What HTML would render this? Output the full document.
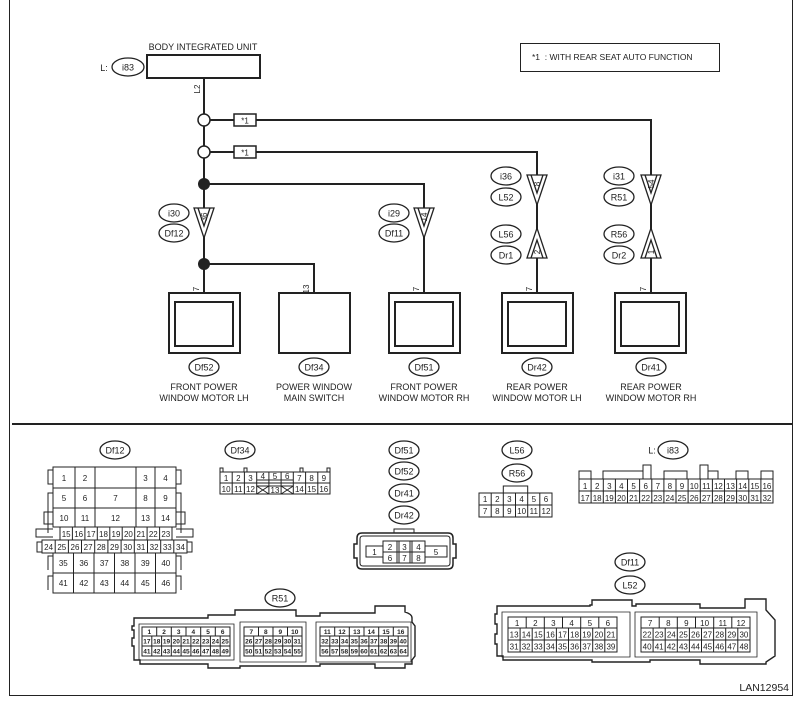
<!DOCTYPE html>
<html><head><meta charset="utf-8"><style>
html,body{margin:0;padding:0;background:#fff}
svg{display:block}
text{font-family:"Liberation Sans",Arial,sans-serif;fill:#222}
.s{fill:none;stroke:#222;stroke-width:2}
.t{fill:none;stroke:#222;stroke-width:1}
.n{font-size:8px;text-anchor:middle}
.l{font-size:9px;text-anchor:middle}
.e{fill:#fff;stroke:#222;stroke-width:1.3}
</style></head><body>
<svg width="803" height="704" viewBox="0 0 803 704" xmlns="http://www.w3.org/2000/svg">
<!-- frame -->
<path class="t" d="M9.5 0V695.5H792.5V0" stroke-width="1.3"/>
<line x1="12" y1="424" x2="792" y2="424" stroke="#222" stroke-width="2"/>

<!-- body unit -->
<text x="203" y="50" class="l">BODY INTEGRATED UNIT</text>
<rect x="147" y="55" width="113" height="23" class="s"/>
<text x="104" y="71" class="l">L:</text>
<ellipse cx="128" cy="67" rx="16" ry="9" class="e"/><text x="128" y="70.5" class="l">i83</text>
<text transform="translate(200,89) rotate(-90)" class="n">L2</text>

<!-- wires -->
<path class="s" d="M204 78V292"/>
<path class="s" d="M210 120H651V292"/>
<path class="s" d="M210 152H537V292"/>
<path class="s" d="M204 184H424V292"/>
<path class="s" d="M204 264H314V292"/>
<circle cx="204" cy="120" r="6" fill="#fff" stroke="#222" stroke-width="1.5"/>
<circle cx="204" cy="152" r="6" fill="#fff" stroke="#222" stroke-width="1.5"/>
<circle cx="204" cy="184" r="6" fill="#222"/>
<circle cx="204" cy="264" r="6" fill="#222"/>
<rect x="234" y="114" width="22" height="12" fill="#fff" stroke="#222" stroke-width="1.5"/><text x="245" y="123.5" class="n">*1</text>
<rect x="234" y="146" width="22" height="12" fill="#fff" stroke="#222" stroke-width="1.5"/><text x="245" y="155.5" class="n">*1</text>

<!-- legend -->
<rect x="520.5" y="43.5" width="199" height="28" class="t" stroke-width="1.5"/>
<text x="532" y="60" style="font-size:8.5px">*1 &#160;: WITH REAR SEAT AUTO FUNCTION</text>

<!-- triangles down -->
<g fill="#fff" stroke="#222" stroke-width="1.3">
<polygon points="194,208 214,208 204,238"/><polyline fill="none" points="198,208 204,226 210,208"/>
<polygon points="414,208 434,208 424,238"/><polyline fill="none" points="418,208 424,226 430,208"/>
<polygon points="527,175 547,175 537,205"/><polyline fill="none" points="531,175 537,193 543,175"/>
<polygon points="641,175 661,175 651,205"/><polyline fill="none" points="645,175 651,193 657,175"/>
<polygon points="527,258 547,258 537,228"/><polyline fill="none" points="531,258 537,240 543,258"/>
<polygon points="641,258 661,258 651,228"/><polyline fill="none" points="645,258 651,240 657,258"/>
</g>
<text transform="translate(207,217) rotate(-90)" class="n">36</text>
<text transform="translate(427,217) rotate(-90)" class="n">14</text>
<text transform="translate(540,184) rotate(-90)" class="n">8</text>
<text transform="translate(654,184) rotate(-90)" class="n">54</text>
<text transform="translate(540,252) rotate(-90)" class="n">2</text>
<text transform="translate(654,252) rotate(-90)" class="n">1</text>

<!-- labels ellipses -->
<g>
<ellipse cx="174" cy="213" rx="15" ry="9" class="e"/><text x="174" y="216.5" class="l">i30</text>
<ellipse cx="174" cy="233" rx="15" ry="9" class="e"/><text x="174" y="236.5" class="l">Df12</text>
<ellipse cx="394" cy="213" rx="15" ry="9" class="e"/><text x="394" y="216.5" class="l">i29</text>
<ellipse cx="394" cy="233" rx="15" ry="9" class="e"/><text x="394" y="236.5" class="l">Df11</text>
<ellipse cx="506" cy="176" rx="15" ry="9" class="e"/><text x="506" y="179.5" class="l">i36</text>
<ellipse cx="506" cy="197" rx="15" ry="9" class="e"/><text x="506" y="200.5" class="l">L52</text>
<ellipse cx="506" cy="234" rx="15" ry="9" class="e"/><text x="506" y="237.5" class="l">L56</text>
<ellipse cx="506" cy="255" rx="15" ry="9" class="e"/><text x="506" y="258.5" class="l">Dr1</text>
<ellipse cx="619" cy="176" rx="15" ry="9" class="e"/><text x="619" y="179.5" class="l">i31</text>
<ellipse cx="619" cy="197" rx="15" ry="9" class="e"/><text x="619" y="200.5" class="l">R51</text>
<ellipse cx="619" cy="234" rx="15" ry="9" class="e"/><text x="619" y="237.5" class="l">R56</text>
<ellipse cx="619" cy="255" rx="15" ry="9" class="e"/><text x="619" y="258.5" class="l">Dr2</text>
</g>

<!-- pin labels -->
<text transform="translate(199,289) rotate(-90)" class="n">7</text>
<text transform="translate(309,289) rotate(-90)" class="n">13</text>
<text transform="translate(419,289) rotate(-90)" class="n">7</text>
<text transform="translate(532,289) rotate(-90)" class="n">7</text>
<text transform="translate(646,289) rotate(-90)" class="n">7</text>

<!-- component boxes -->
<rect x="169" y="293" width="71" height="60" class="s"/><rect x="175" y="302" width="58" height="44" class="s"/>
<rect x="279" y="293" width="71" height="60" class="s"/>
<rect x="389" y="293" width="71" height="60" class="s"/><rect x="395" y="302" width="58" height="44" class="s"/>
<rect x="502" y="293" width="71" height="60" class="s"/><rect x="508" y="302" width="58" height="44" class="s"/>
<rect x="615" y="293" width="71" height="60" class="s"/><rect x="621" y="302" width="58" height="44" class="s"/>

<ellipse cx="204" cy="367" rx="15" ry="9" class="e"/><text x="204" y="370.5" class="l">Df52</text>
<ellipse cx="314" cy="367" rx="15" ry="9" class="e"/><text x="314" y="370.5" class="l">Df34</text>
<ellipse cx="424" cy="367" rx="15" ry="9" class="e"/><text x="424" y="370.5" class="l">Df51</text>
<ellipse cx="537" cy="367" rx="15" ry="9" class="e"/><text x="537" y="370.5" class="l">Dr42</text>
<ellipse cx="651" cy="367" rx="15" ry="9" class="e"/><text x="651" y="370.5" class="l">Dr41</text>
<g class="l">
<text x="204" y="390">FRONT POWER</text><text x="204" y="401">WINDOW MOTOR LH</text>
<text x="314" y="390">POWER WINDOW</text><text x="314" y="401">MAIN SWITCH</text>
<text x="424" y="390">FRONT POWER</text><text x="424" y="401">WINDOW MOTOR RH</text>
<text x="537" y="390">REAR POWER</text><text x="537" y="401">WINDOW MOTOR LH</text>
<text x="651" y="390">REAR POWER</text><text x="651" y="401">WINDOW MOTOR RH</text>
</g>

<!-- ===== Df12 ===== -->
<ellipse cx="115" cy="450" rx="15" ry="9" class="e"/><text x="115" y="453.5" class="l">Df12</text>
<g class="t">
<rect x="53" y="467" width="123" height="60"/>
<path d="M53 488H176M53 508H176M75 467V527M95 467V527M136 467V527M155 467V527"/>
<rect x="60" y="527" width="112" height="13"/>
<path d="M72.4 527v13M84.9 527v13M97.3 527v13M109.8 527v13M122.2 527v13M134.7 527v13M147.1 527v13M159.6 527v13"/>
<rect x="42" y="540" width="145" height="13"/>
<path d="M55.2 540v13M68.4 540v13M81.5 540v13M94.7 540v13M107.9 540v13M121.1 540v13M134.3 540v13M147.5 540v13M160.7 540v13M173.8 540v13"/>
<rect x="53" y="553" width="123" height="40"/>
<path d="M53 573H176M73.5 553v40M94 553v40M114.5 553v40M135 553v40M155.5 553v40"/>
<path d="M53 470h-5v14h5M176 470h5v14h-5M53 493h-5v40M176 493h5v40M53 512h-9v12h9M176 512h9v12h-9M53 529h-17v8h17M176 529h17v8h-17M42 542h-5v10h5M187 542h5v10h-5M53 556h-5v14M176 556h5v14M53 576h-5v14M176 576h5v14"/>
</g>
<g class="n">
<text x="64" y="481">1</text><text x="85" y="481">2</text><text x="145.5" y="481">3</text><text x="165.5" y="481">4</text>
<text x="64" y="501">5</text><text x="85" y="501">6</text><text x="115.5" y="501">7</text><text x="145.5" y="501">8</text><text x="165.5" y="501">9</text>
<text x="64" y="521">10</text><text x="85" y="521">11</text><text x="115.5" y="521">12</text><text x="145.5" y="521">13</text><text x="165.5" y="521">14</text>
<text x="66.2" y="537">15</text><text x="78.7" y="537">16</text><text x="91.1" y="537">17</text><text x="103.5" y="537">18</text><text x="116" y="537">19</text><text x="128.4" y="537">20</text><text x="140.9" y="537">21</text><text x="153.3" y="537">22</text><text x="165.8" y="537">23</text>
<text x="48.6" y="550">24</text><text x="61.8" y="550">25</text><text x="75" y="550">26</text><text x="88.1" y="550">27</text><text x="101.3" y="550">28</text><text x="114.5" y="550">29</text><text x="127.7" y="550">30</text><text x="140.9" y="550">31</text><text x="154.1" y="550">32</text><text x="167.3" y="550">33</text><text x="180.5" y="550">34</text>
<text x="63.3" y="566">35</text><text x="83.8" y="566">36</text><text x="104.3" y="566">37</text><text x="124.8" y="566">38</text><text x="145.3" y="566">39</text><text x="165.8" y="566">40</text>
<text x="63.3" y="586">41</text><text x="83.8" y="586">42</text><text x="104.3" y="586">43</text><text x="124.8" y="586">44</text><text x="145.3" y="586">45</text><text x="165.8" y="586">46</text>
</g>

<!-- ===== Df34 ===== -->
<ellipse cx="240" cy="450" rx="15" ry="9" class="e"/><text x="240" y="453.5" class="l">Df34</text>
<g class="t">
<rect x="220" y="472" width="110" height="22"/>
<path d="M220 483H330M232.2 472v22M244.4 472v22M256.7 472v22M268.9 472v22M281.1 472v22M293.3 472v22M305.6 472v22M317.8 472v22"/>
<path d="M256.7 480H293.3M256.7 486H293.3M256.7 486L268.9 494M268.9 486L256.7 494M281.1 486L293.3 494M293.3 486L281.1 494"/>
<path d="M220 472v-4h3v4M244 472v-4h3v4M300 472v-4h3v4M327 472v-4h3v4"/>
</g>
<g class="n">
<text x="226.1" y="481">1</text><text x="238.3" y="481">2</text><text x="250.5" y="481">3</text><text x="262.8" y="479">4</text><text x="275" y="479">5</text><text x="287.2" y="479">6</text><text x="299.4" y="481">7</text><text x="311.6" y="481">8</text><text x="323.8" y="481">9</text>
<text x="226.1" y="492">10</text><text x="238.3" y="492">11</text><text x="250.5" y="492">12</text><text x="275" y="493">13</text><text x="299.4" y="492">14</text><text x="311.6" y="492">15</text><text x="323.8" y="492">16</text>
</g>

<!-- ===== Df51 group ===== -->
<ellipse cx="404" cy="450" rx="15" ry="9" class="e"/><text x="404" y="453.5" class="l">Df51</text>
<ellipse cx="404" cy="471" rx="15" ry="9" class="e"/><text x="404" y="474.5" class="l">Df52</text>
<ellipse cx="404" cy="493" rx="15" ry="9" class="e"/><text x="404" y="496.5" class="l">Dr41</text>
<ellipse cx="404" cy="515" rx="15" ry="9" class="e"/><text x="404" y="518.5" class="l">Dr42</text>
<g class="t">
<path d="M394 533V529H414V533" />
<path d="M362 533H448Q453 533 453 538V544H456V558H453V564Q453 569 448 569H362Q357 569 357 564V558H354V544H357V538Q357 533 362 533Z" stroke-width="1.5"/>
<path d="M363 536H447Q450 536 450 539V563Q450 566 447 566H363Q360 566 360 563V539Q360 536 363 536Z"/>
<rect x="366" y="546" width="17" height="11"/>
<rect x="383" y="541" width="42" height="22"/>
<path d="M383 552H425M397 541v22M399 541v22M410 541v22M412 541v22"/>
<rect x="425" y="546" width="22" height="11"/>
</g>
<g class="n">
<text x="374.5" y="555">1</text><text x="390" y="550">2</text><text x="404.5" y="550">3</text><text x="418.5" y="550">4</text><text x="436" y="555">5</text>
<text x="390" y="561">6</text><text x="404.5" y="561">7</text><text x="418.5" y="561">8</text>
</g>

<!-- ===== L56 ===== -->
<ellipse cx="517" cy="450" rx="15" ry="9" class="e"/><text x="517" y="453.5" class="l">L56</text>
<ellipse cx="517" cy="473" rx="15" ry="9" class="e"/><text x="517" y="476.5" class="l">R56</text>
<g class="t">
<rect x="479" y="493" width="73" height="24"/>
<path d="M479 505H552M491.2 493v24M503.3 493v24M515.5 493v24M527.7 493v24M539.8 493v24M503.3 493v-7h24.4v7"/>
</g>
<g class="n">
<text x="485.1" y="502">1</text><text x="497.3" y="502">2</text><text x="509.4" y="502">3</text><text x="521.6" y="502">4</text><text x="533.8" y="502">5</text><text x="546" y="502">6</text>
<text x="485.1" y="514">7</text><text x="497.3" y="514">8</text><text x="509.4" y="514">9</text><text x="521.6" y="514">10</text><text x="533.8" y="514">11</text><text x="546" y="514">12</text>
</g>

<!-- ===== i83 ===== -->
<text x="652" y="453.5" class="l">L:</text>
<ellipse cx="673" cy="450" rx="15" ry="9" class="e"/><text x="673" y="453.5" class="l">i83</text>
<g class="t">
<rect x="579" y="479" width="194" height="24"/>
<path d="M579 491H773M591.1 479v24M603.3 479v24M615.4 479v24M627.5 479v24M639.6 479v24M651.8 479v24M663.9 479v24M676 479v24M688.1 479v24M700.3 479v24M712.4 479v24M724.5 479v24M736.6 479v24M748.8 479v24M760.9 479v24"/>
<path d="M579 479v-8h12v8M603 479v-8h40v8M643 479v-14h8v14M664 479v-8h23v8M700 479v-14h8v14M708 471h10v8M736 479v-8h12v8M761 479v-8h12v8"/>
</g>
<g class="n">
<text x="585.1" y="489">1</text><text x="597.2" y="489">2</text><text x="609.3" y="489">3</text><text x="621.4" y="489">4</text><text x="633.6" y="489">5</text><text x="645.7" y="489">6</text><text x="657.8" y="489">7</text><text x="669.9" y="489">8</text><text x="682" y="489">9</text><text x="694.2" y="489">10</text><text x="706.3" y="489">11</text><text x="718.4" y="489">12</text><text x="730.5" y="489">13</text><text x="742.6" y="489">14</text><text x="754.8" y="489">15</text><text x="766.9" y="489">16</text>
<text x="585.1" y="501">17</text><text x="597.2" y="501">18</text><text x="609.3" y="501">19</text><text x="621.4" y="501">20</text><text x="633.6" y="501">21</text><text x="645.7" y="501">22</text><text x="657.8" y="501">23</text><text x="669.9" y="501">24</text><text x="682" y="501">25</text><text x="694.2" y="501">26</text><text x="706.3" y="501">27</text><text x="718.4" y="501">28</text><text x="730.5" y="501">29</text><text x="742.6" y="501">30</text><text x="754.8" y="501">31</text><text x="766.9" y="501">32</text>
</g>

<!-- ===== R51 ===== -->
<ellipse cx="280" cy="598" rx="15" ry="9" class="e"/><text x="280" y="601.5" class="l">R51</text>
<g class="t">
<path d="M134 618H208V615H235V610H296V616H320V613H375V606H405V612Q412 614 412 618V622L415 626V656L412 660V664H405V668H375V664H320V666H240V668H208V664H140V660H134V646H132V638H134V630H132V626H134Z" stroke-width="1.4"/>
<path d="M139 624H234V660H139ZM240 622H306V662H240ZM316 622H411V662H316Z" stroke-width="0.8"/>
<rect x="142" y="627" width="88" height="29"/>
<path d="M142 636H230M142 646H230M156.7 627v9M171.3 627v9M186 627v9M200.7 627v9M215.3 627v9M151.8 636v20M161.6 636v20M171.3 636v20M181.1 636v20M190.9 636v20M200.7 636v20M210.4 636v20M220.2 636v20"/>
<rect x="244" y="627" width="58" height="29"/>
<path d="M244 636H302M244 646H302M258.5 627v9M273 627v9M287.5 627v9M253.7 636v20M263.3 636v20M273 636v20M282.7 636v20M292.3 636v20"/>
<rect x="320" y="627" width="88" height="29"/>
<path d="M320 636H408M320 646H408M334.7 627v9M349.3 627v9M364 627v9M378.7 627v9M393.3 627v9M329.8 636v20M339.6 636v20M349.3 636v20M359.1 636v20M368.9 636v20M378.7 636v20M388.4 636v20M398.2 636v20"/>
</g>
<g style="font-size:6.5px;text-anchor:middle;font-weight:bold">
<text x="149.3" y="634">1</text><text x="164" y="634">2</text><text x="178.7" y="634">3</text><text x="193.3" y="634">4</text><text x="208" y="634">5</text><text x="222.7" y="634">6</text>
<text x="146.9" y="643.5">17</text><text x="156.7" y="643.5">18</text><text x="166.5" y="643.5">19</text><text x="176.2" y="643.5">20</text><text x="186" y="643.5">21</text><text x="195.8" y="643.5">22</text><text x="205.6" y="643.5">23</text><text x="215.4" y="643.5">24</text><text x="225.1" y="643.5">25</text>
<text x="146.9" y="653.5">41</text><text x="156.7" y="653.5">42</text><text x="166.5" y="653.5">43</text><text x="176.2" y="653.5">44</text><text x="186" y="653.5">45</text><text x="195.8" y="653.5">46</text><text x="205.6" y="653.5">47</text><text x="215.4" y="653.5">48</text><text x="225.1" y="653.5">49</text>
<text x="251.3" y="634">7</text><text x="265.8" y="634">8</text><text x="280.3" y="634">9</text><text x="294.8" y="634">10</text>
<text x="248.8" y="643.5">26</text><text x="258.5" y="643.5">27</text><text x="268.2" y="643.5">28</text><text x="277.8" y="643.5">29</text><text x="287.5" y="643.5">30</text><text x="297.2" y="643.5">31</text>
<text x="248.8" y="653.5">50</text><text x="258.5" y="653.5">51</text><text x="268.2" y="653.5">52</text><text x="277.8" y="653.5">53</text><text x="287.5" y="653.5">54</text><text x="297.2" y="653.5">55</text>
<text x="327.3" y="634">11</text><text x="342" y="634">12</text><text x="356.7" y="634">13</text><text x="371.3" y="634">14</text><text x="386" y="634">15</text><text x="400.7" y="634">16</text>
<text x="324.9" y="643.5">32</text><text x="334.7" y="643.5">33</text><text x="344.5" y="643.5">34</text><text x="354.2" y="643.5">35</text><text x="364" y="643.5">36</text><text x="373.8" y="643.5">37</text><text x="383.6" y="643.5">38</text><text x="393.4" y="643.5">39</text><text x="403.1" y="643.5">40</text>
<text x="324.9" y="653.5">56</text><text x="334.7" y="653.5">57</text><text x="344.5" y="653.5">58</text><text x="354.2" y="653.5">59</text><text x="364" y="653.5">60</text><text x="373.8" y="653.5">61</text><text x="383.6" y="653.5">62</text><text x="393.4" y="653.5">63</text><text x="403.1" y="653.5">64</text>
</g>

<!-- ===== Df11 / L52 ===== -->
<ellipse cx="630" cy="562" rx="15" ry="9" class="e"/><text x="630" y="565.5" class="l">Df11</text>
<ellipse cx="630" cy="585" rx="15" ry="9" class="e"/><text x="630" y="588.5" class="l">L52</text>
<g class="t">
<path d="M497 606H590V605H592V600H632V606H636V604H665V604H700V608H745V599H766V610L775 620V656L766 662V664H700V660H650V662H592V660H503V656H497V644H495V634H497V624H495V614H497Z" stroke-width="1.4"/>
<path d="M502 612H630V657H502ZM635 612H757V657H635Z" stroke-width="0.8"/>
<rect x="508" y="617" width="109" height="35"/>
<path d="M508 628H617M508 640H617M526.2 617v11M544.3 617v11M562.5 617v11M580.7 617v11M598.8 617v11M520.1 628v24M532.2 628v24M544.3 628v24M556.4 628v24M568.5 628v24M580.6 628v24M592.7 628v24M604.8 628v24"/>
<rect x="641" y="617" width="109" height="35"/>
<path d="M641 628H750M641 640H750M659.2 617v11M677.3 617v11M695.5 617v11M713.7 617v11M731.8 617v11M653.1 628v24M665.2 628v24M677.3 628v24M689.4 628v24M701.5 628v24M713.6 628v24M725.7 628v24M737.8 628v24"/>
</g>
<g class="n">
<text x="517.1" y="626">1</text><text x="535.3" y="626">2</text><text x="553.4" y="626">3</text><text x="571.6" y="626">4</text><text x="589.8" y="626">5</text><text x="607.9" y="626">6</text>
<text x="514.1" y="637.5">13</text><text x="526.2" y="637.5">14</text><text x="538.3" y="637.5">15</text><text x="550.4" y="637.5">16</text><text x="562.5" y="637.5">17</text><text x="574.6" y="637.5">18</text><text x="586.7" y="637.5">19</text><text x="598.8" y="637.5">20</text><text x="610.9" y="637.5">21</text>
<text x="514.1" y="649.5">31</text><text x="526.2" y="649.5">32</text><text x="538.3" y="649.5">33</text><text x="550.4" y="649.5">34</text><text x="562.5" y="649.5">35</text><text x="574.6" y="649.5">36</text><text x="586.7" y="649.5">37</text><text x="598.8" y="649.5">38</text><text x="610.9" y="649.5">39</text>
<text x="650.1" y="626">7</text><text x="668.3" y="626">8</text><text x="686.4" y="626">9</text><text x="704.6" y="626">10</text><text x="722.8" y="626">11</text><text x="740.9" y="626">12</text>
<text x="647.1" y="637.5">22</text><text x="659.2" y="637.5">23</text><text x="671.3" y="637.5">24</text><text x="683.4" y="637.5">25</text><text x="695.5" y="637.5">26</text><text x="707.6" y="637.5">27</text><text x="719.7" y="637.5">28</text><text x="731.8" y="637.5">29</text><text x="743.9" y="637.5">30</text>
<text x="647.1" y="649.5">40</text><text x="659.2" y="649.5">41</text><text x="671.3" y="649.5">42</text><text x="683.4" y="649.5">43</text><text x="695.5" y="649.5">44</text><text x="707.6" y="649.5">45</text><text x="719.7" y="649.5">46</text><text x="731.8" y="649.5">47</text><text x="743.9" y="649.5">48</text>
</g>

<text x="789" y="691" style="font-size:10.5px;text-anchor:end">LAN12954</text>
</svg>
</body></html>
